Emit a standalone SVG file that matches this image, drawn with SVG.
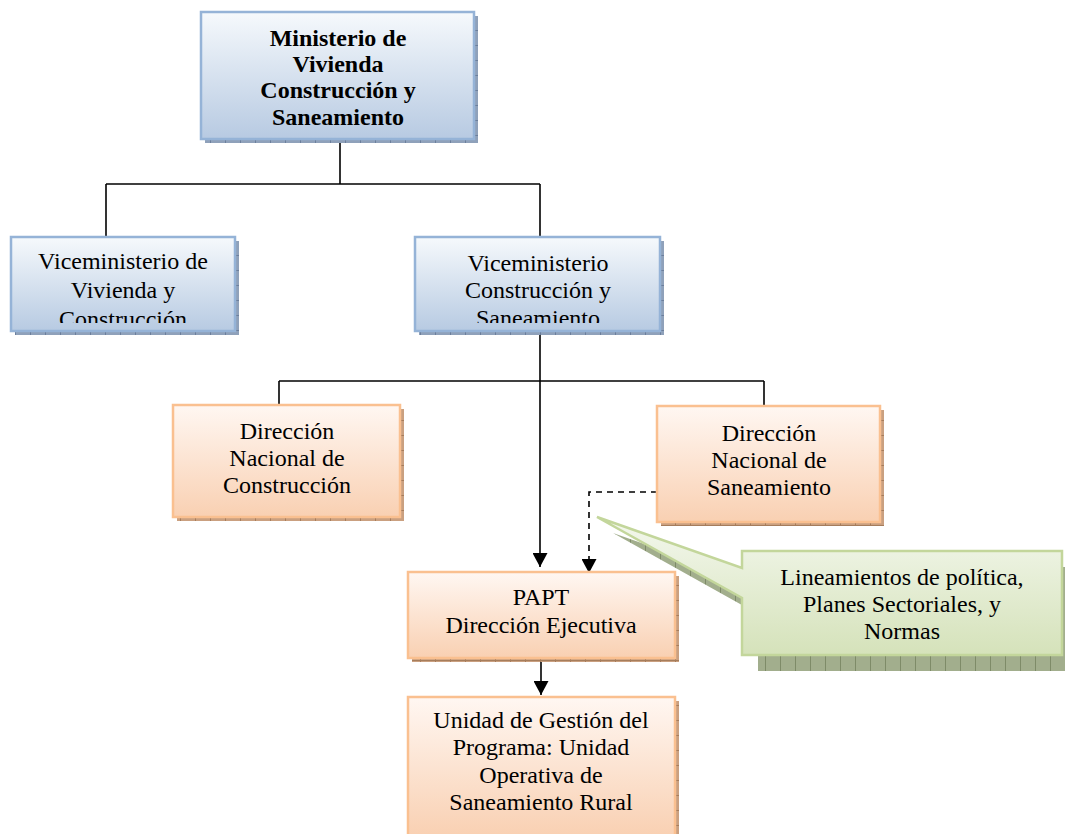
<svg xmlns="http://www.w3.org/2000/svg" width="1065" height="834" viewBox="0 0 1065 834">
<style>
  text { font-family: "Liberation Serif", "Times New Roman", serif; font-size: 24px; fill: #000; text-anchor: middle; }
  .bold { font-weight: bold; }
  .blue { fill: url(#gBlue); stroke: #95b3d7; stroke-width: 2.5; }
  .orange { fill: url(#gOrange); stroke: #fac090; stroke-width: 2.5; }
  .green { fill: url(#gGreen); stroke: #c3d69b; stroke-width: 2.5; }
  .shBlue { fill: url(#pBlue); }
  .shOrange { fill: url(#pOrange); }
  .shGreen { fill: url(#pGreen); }
  .conn { stroke: #000; stroke-width: 1.6; fill: none; }
  .dash { stroke-dasharray: 6 5; }
</style>
<defs>
  <linearGradient id="gBlue" x1="0" y1="0" x2="0" y2="1">
    <stop offset="0" stop-color="#f6f9fc"/>
    <stop offset="1" stop-color="#b7cae2"/>
  </linearGradient>
  <linearGradient id="gOrange" x1="0" y1="0" x2="0" y2="1">
    <stop offset="0" stop-color="#fff7f2"/>
    <stop offset="1" stop-color="#f9d0b2"/>
  </linearGradient>
  <linearGradient id="gGreen" x1="0" y1="0" x2="0" y2="1">
    <stop offset="0" stop-color="#f4f8ee"/>
    <stop offset="1" stop-color="#d5e2ba"/>
  </linearGradient>
  <pattern id="pBlue" width="15" height="15" patternUnits="userSpaceOnUse">
    <rect width="15" height="15" fill="#8fa1ba"/>
    <path d="M0.5,0V15M0,0.5H15" stroke="#6c7f9c" stroke-width="1"/>
  </pattern>
  <pattern id="pOrange" width="15" height="15" patternUnits="userSpaceOnUse">
    <rect width="15" height="15" fill="#caa080"/>
    <path d="M0.5,0V15M0,0.5H15" stroke="#a67d5c" stroke-width="1"/>
  </pattern>
  <pattern id="pGreen" width="15" height="200" patternUnits="userSpaceOnUse">
    <rect width="15" height="200" fill="#a2ae8d"/>
    <path d="M0.5,0V200" stroke="#7e8b68" stroke-width="1"/>
  </pattern>
  <marker id="arrow" viewBox="0 0 14 15" refX="14" refY="7.5" markerWidth="14" markerHeight="15" markerUnits="userSpaceOnUse" orient="auto">
    <path d="M0,0 L14,7.5 L0,15 Z" fill="#000"/>
  </marker>
  <clipPath id="clipVL"><rect x="11" y="237" width="224" height="86"/></clipPath>
  <clipPath id="clipVR"><rect x="415" y="237" width="245" height="86"/></clipPath>
</defs>

<rect width="1065" height="834" fill="#ffffff"/>

<g id="connectors">
  <path class="conn" d="M340,139 V184"/>
  <path class="conn" d="M106,184 H540"/>
  <path class="conn" d="M106,184 V237"/>
  <path class="conn" d="M540,184 V237"/>
  <path class="conn" d="M540,331 V567" marker-end="url(#arrow)"/>
  <path class="conn" d="M279,381 H764"/>
  <path class="conn" d="M279,381 V405"/>
  <path class="conn" d="M764,381 V406"/>
  <path class="conn dash" d="M657,492 H589 V573" marker-end="url(#arrow)"/>
  <path class="conn" d="M541,658 V695" marker-end="url(#arrow)"/>
</g>

<g id="ministerio">
  <rect class="shBlue" x="205" y="16" width="273" height="127"/>
  <rect class="blue" x="201" y="12" width="273" height="127"/>
  <text class="bold" x="338" y="46">Ministerio de</text>
  <text class="bold" x="338" y="72">Vivienda</text>
  <text class="bold" x="338" y="98">Construcción y</text>
  <text class="bold" x="338" y="125">Saneamiento</text>
</g>

<g id="vice-vivienda">
  <rect class="shBlue" x="15" y="241" width="224" height="94"/>
  <rect class="blue" x="11" y="237" width="224" height="94"/>
  <g clip-path="url(#clipVL)">
    <text x="123" y="269">Viceministerio de</text>
    <text x="123" y="298">Vivienda y</text>
    <text x="123" y="327">Construcción</text>
  </g>
</g>

<g id="vice-saneamiento">
  <rect class="shBlue" x="419" y="241" width="245" height="94"/>
  <rect class="blue" x="415" y="237" width="245" height="94"/>
  <g clip-path="url(#clipVR)">
    <text x="538" y="271">Viceministerio</text>
    <text x="538" y="298">Construcción y</text>
    <text x="538" y="326">Saneamiento</text>
  </g>
</g>

<g id="dir-construccion">
  <rect class="shOrange" x="177" y="409" width="227" height="112"/>
  <rect class="orange" x="173" y="405" width="227" height="112"/>
  <text x="287" y="439">Dirección</text>
  <text x="287" y="466">Nacional de</text>
  <text x="287" y="493">Construcción</text>
</g>

<g id="dir-saneamiento">
  <rect class="shOrange" x="661" y="410" width="223" height="116"/>
  <rect class="orange" x="657" y="406" width="223" height="116"/>
  <text x="769" y="441">Dirección</text>
  <text x="769" y="468">Nacional de</text>
  <text x="769" y="495">Saneamiento</text>
</g>

<g id="callout">
  <path class="shGreen" d="M758,567 H1078 V671 H758 V614 L613,533 L758,584 Z"/>
  <path class="green" d="M742,551 H1062 V655 H742 V598 L597,517 L742,568 Z"/>
  <text x="902" y="585">Lineamientos de política,</text>
  <text x="902" y="612">Planes Sectoriales, y</text>
  <text x="902" y="639">Normas</text>
</g>

<g id="papt">
  <rect class="shOrange" x="412" y="576" width="267" height="86"/>
  <rect class="orange" x="408" y="572" width="267" height="86"/>
  <text x="541" y="605">PAPT</text>
  <text x="541" y="633">Dirección Ejecutiva</text>
</g>

<g id="ugp">
  <rect class="shOrange" x="412" y="701" width="267" height="140"/>
  <rect class="orange" x="408" y="697" width="267" height="140"/>
  <text x="541" y="728">Unidad de Gestión del</text>
  <text x="541" y="755">Programa: Unidad</text>
  <text x="541" y="783">Operativa de</text>
  <text x="541" y="810">Saneamiento Rural</text>
</g>
</svg>
